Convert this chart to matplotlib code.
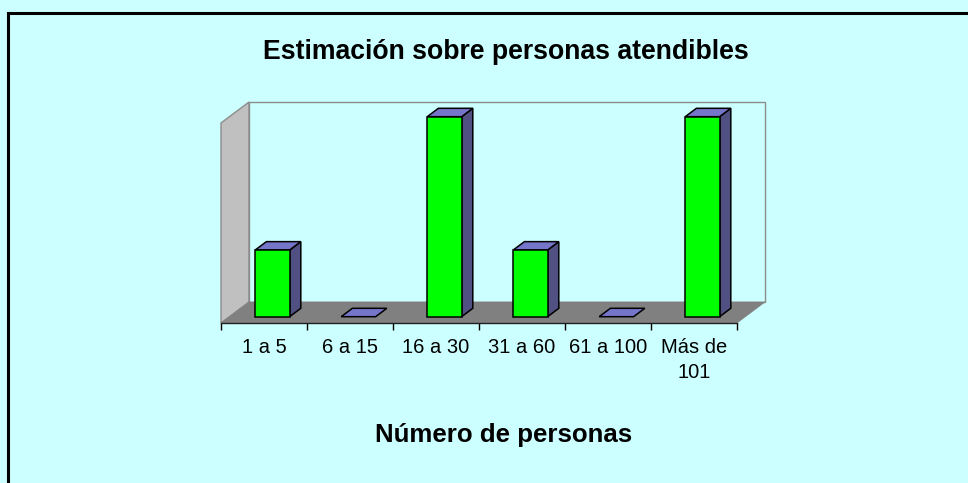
import matplotlib.pyplot as plt
from matplotlib.patches import Polygon, Rectangle
from matplotlib.lines import Line2D

plt.rcParams['font.family'] = ['Liberation Sans', 'DejaVu Sans']

# datos
categorias = ['1 a 5', '6 a 15', '16 a 30', '31 a 60', '61 a 100', 'Más de\n101']
valores = [1, 0, 3, 1, 0, 3]
ymax = 3

# colores (estilo Excel)
fondo = '#CCFFFF'
frente = '#00FF00'
lado = '#505082'
techo = '#7575CA'
pared = '#C0C0C0'
suelo = '#808080'

W, H, DPI = 968, 483, 100
fig = plt.figure(figsize=(W / DPI, H / DPI), dpi=DPI, facecolor=fondo)

# area de trazado en pixeles (frente del suelo)
x0, x1, y0, alto = 221, 737, 323, 200
ax = fig.add_axes([x0 / W, 1 - y0 / H, (x1 - x0) / W, alto / H])
ax.set_facecolor('none')
n = len(categorias)
ax.set_xlim(0, n)
ax.set_ylim(0, ymax)

# profundidad en unidades de datos
ddx = 28 / ((x1 - x0) / n)
ddy = 21 / (alto / ymax)

kw = dict(clip_on=False)
# pared izquierda
ax.add_patch(Polygon([(0, 0), (ddx, ddy), (ddx, ymax + ddy), (0, ymax)],
                     facecolor=pared, edgecolor='#8C8C8C', lw=1, zorder=1, **kw))
# pared de fondo
ax.add_patch(Polygon([(ddx, ddy), (n + ddx, ddy), (n + ddx, ymax + ddy), (ddx, ymax + ddy)],
                     facecolor=fondo, edgecolor='#8C8C8C', lw=1, zorder=1, **kw))
# suelo
ax.add_patch(Polygon([(0, 0), (n, 0), (n + ddx, ddy), (ddx, ddy)],
                     facecolor=suelo, edgecolor=suelo, lw=0.5, zorder=2, **kw))

ancho = 0.4
f0, prof = 0.3, 0.4
for i, v in enumerate(valores):
    bx = i + (1 - ancho) / 2 + f0 * ddx
    by = f0 * ddy
    px, py = prof * ddx, prof * ddy
    if v == 0:
        ax.add_patch(Polygon([(bx, by), (bx + ancho, by), (bx + ancho + px, by + py), (bx + px, by + py)],
                             facecolor=techo, edgecolor='black', lw=1.1, zorder=3, **kw))
        continue
    # cara lateral
    ax.add_patch(Polygon([(bx + ancho, by), (bx + ancho + px, by + py),
                          (bx + ancho + px, by + py + v), (bx + ancho, by + v)],
                         facecolor=lado, edgecolor='black', lw=1.1, zorder=3, **kw))
    # techo
    ax.add_patch(Polygon([(bx, by + v), (bx + ancho, by + v),
                          (bx + ancho + px, by + py + v), (bx + px, by + py + v)],
                         facecolor=techo, edgecolor='black', lw=1.1, zorder=3, **kw))
    # frente
    ax.add_patch(Rectangle((bx, by), ancho, v, facecolor=frente,
                           edgecolor='black', lw=1.1, zorder=4, **kw))

for s in ['top', 'right', 'left']:
    ax.spines[s].set_visible(False)
ax.spines['bottom'].set_color('#202020')
ax.spines['bottom'].set_linewidth(1)
ax.spines['bottom'].set_zorder(5)
ax.set_yticks([])
ax.set_xticks([i + 0.5 for i in range(n)])
ax.set_xticklabels(categorias, fontsize=14.5)
ax.set_xticks(range(n + 1), minor=True)
ax.tick_params(axis='x', which='major', length=0, pad=10.5)
ax.tick_params(axis='x', which='minor', length=5, width=1, color='black', direction='out')
for lbl in ax.get_xticklabels():
    lbl.set_linespacing(1.4)

fig.text(506 / W, 1 - 52 / H, 'Estimación sobre personas atendibles',
         ha='center', va='center', fontsize=19.2, fontweight='bold')
fig.text(504 / W, 1 - 435 / H, 'Número de personas',
         ha='center', va='center', fontsize=18.6, fontweight='bold')

# borde del grafico
fig.add_artist(Line2D([7.5 / W, 7.5 / W], [1 - 12.5 / H, -0.1], color='black', lw=2.2,
                      transform=fig.transFigure))
fig.add_artist(Line2D([7.5 / W, 1.1], [1 - 12.5 / H, 1 - 12.5 / H], color='black', lw=2.2,
                      transform=fig.transFigure))

fig.savefig('out.png', dpi=DPI, facecolor=fondo)
